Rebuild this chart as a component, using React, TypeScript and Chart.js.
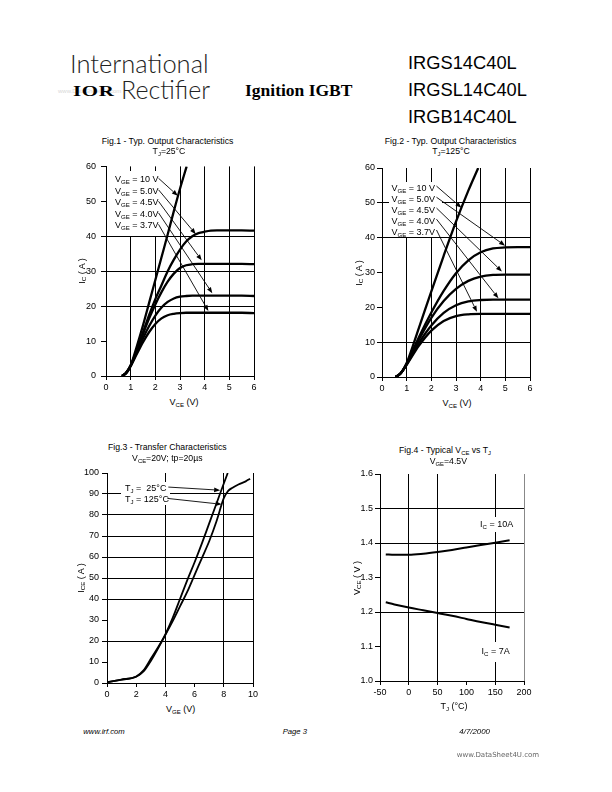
import React, { useEffect, useRef } from "react";
import { Chart, registerables } from "chart.js";
Chart.register(...registerables);

// ---------------- Fig.1 data (Tj = 25°C) ----------------
const fig1XTicks = [0, 1, 2, 3, 4, 5, 6];
const fig1YTicks = [0, 10, 20, 30, 40, 50, 60];
const fig1Vce = [0.65, 0.8, 1, 1.25, 1.5, 1.75, 2, 2.25, 2.5, 2.75, 3, 3.25, 3.5, 3.75, 4, 4.25, 4.5, 5, 5.5, 6];
const fig1Ic50 = [0, 0.8, 3, 7.5, 12.5, 17.5, 22, 26, 30, 33.3, 36.2, 38.5, 40, 40.9, 41.3, 41.6, 41.7, 41.7, 41.7, 41.6];
const fig1Ic45 = [0, 0.8, 3, 7.2, 12, 16.5, 20.5, 24, 27, 29.3, 30.9, 31.7, 32, 32.1, 32.1, 32.1, 32.1, 32.1, 32.1, 32.0];
const fig1Ic40 = [0, 0.8, 2.9, 6.8, 10.8, 14.3, 17.3, 19.6, 21.2, 22.2, 22.7, 22.9, 23, 23, 23, 23, 23, 23, 23, 22.9];
const fig1Ic37 = [0, 0.8, 2.8, 6.3, 9.7, 12.6, 14.9, 16.5, 17.4, 17.8, 18, 18.1, 18.1, 18.1, 18.1, 18.1, 18.1, 18.1, 18.1, 18.0];
const fig1Vce10 = [0.65, 0.85, 1, 1.25, 1.5, 1.75, 2, 2.25, 2.5, 2.75, 3, 3.27];
const fig1Ic10 = [0, 1, 3, 8.5, 14.5, 21, 27.5, 34, 40.5, 47.2, 53.6, 60];
const fig1Labels = ["10 V", "5.0V", "4.5V", "4.0V", "3.7V"];

// ---------------- Fig.2 data (Tj = 125°C) ----------------
const fig2XTicks = [0, 1, 2, 3, 4, 5, 6];
const fig2YTicks = [0, 10, 20, 30, 40, 50, 60];
const fig2Vce = [0.55, 0.75, 1, 1.5, 2, 2.5, 3, 3.5, 4, 4.5, 5, 5.5, 6];
const fig2Ic50 = [0, 1, 3.8, 11.5, 18.5, 24.7, 29.8, 33.5, 35.8, 36.9, 37.2, 37.3, 37.3];
const fig2Ic45 = [0, 1, 3.7, 10.8, 17, 21.8, 25.3, 27.6, 28.8, 29.3, 29.4, 29.4, 29.4];
const fig2Ic40 = [0, 1, 3.6, 9.8, 14.8, 18.4, 20.6, 21.7, 22.1, 22.2, 22.2, 22.2, 22.2];
const fig2Ic37 = [0, 1, 3.5, 9, 13.3, 16.1, 17.5, 18, 18.1, 18.1, 18.1, 18.1, 18.1];
const fig2Vce10 = [0.55, 0.7, 0.85, 1, 1.5, 2, 2.5, 3, 3.5, 3.9];
const fig2Ic10 = [0, 0.7, 2, 4, 14.2, 24.6, 34.8, 44.6, 53.5, 60];
const fig2Labels = ["10 V", "5.0V", "4.5V", "4.0V", "3.7V"];

// ---------------- Fig.3 data (transfer) ----------------
const fig3XTicks = [0, 2, 4, 6, 8, 10];
const fig3YTicks = [0, 10, 20, 30, 40, 50, 60, 70, 80, 90, 100];
const fig3Vge25 = [0, 1, 2, 2.5, 3, 3.5, 4, 4.5, 5, 5.5, 6, 6.5, 7, 7.5, 8, 8.27];
const fig3Ice25 = [0.4, 1.6, 3, 5.5, 10.5, 16.5, 23.2, 31, 40, 49, 57.5, 66.5, 76, 85.5, 95, 100];
const fig3Vge125 = [0, 1, 2, 2.5, 3, 3.5, 4, 4.5, 5, 5.5, 6, 6.5, 7, 7.5, 8, 8.3, 8.6, 9, 9.5, 9.8];
const fig3Ice125 = [0.4, 1.6, 3.1, 6, 11.5, 17, 23, 29.5, 36.5, 43.5, 51.5, 59.5, 67.5, 77, 88, 91.5, 93, 94.5, 96, 97.3];

// ---------------- Fig.4 data (Vce vs Tj) ----------------
const fig4XTicks = [-50, 0, 50, 100, 150, 200];
const fig4YTicks = [1.0, 1.1, 1.2, 1.3, 1.4, 1.5, 1.6];
const fig4Tj = [-40, -25, 0, 25, 50, 75, 100, 125, 150, 175];
const fig4Vce10A = [1.367, 1.366, 1.366, 1.369, 1.374, 1.38, 1.387, 1.394, 1.401, 1.408];
const fig4Vce7A = [1.228, 1.222, 1.213, 1.205, 1.197, 1.189, 1.18, 1.171, 1.163, 1.155];

// ---------------- rendering ----------------
const FONT = '"Liberation Sans", Arial, Helvetica, sans-serif';

type Series = { x: number[]; y: number[]; w: number };
interface Spec {
  left: number; top: number; width: number; height: number;
  padTop: number; padRight: number; yW: number; xH: number;
  xTicks: number[]; yTicks: number[];
  xGrid: number[]; yGrid: number[];
  edgeColor: string;
  yPad: number;
  yFmt?: (v: number) => string;
  series: Series[];
  arrows: number[][];
  boxes: number[][];
}

const has = (arr: number[], v: number) => arr.some((g) => Math.abs(g - v) < 1e-6);

function FigChart({ s }: { s: Spec }) {
  const ref = useRef<HTMLCanvasElement>(null);
  useEffect(() => {
    const deco = {
      id: "deco",
      beforeDatasetsDraw(chart: any) {
        const ctx = chart.ctx;
        ctx.save();
        ctx.fillStyle = "#fff";
        for (const [x1, y1, x2, y2] of s.boxes) ctx.fillRect(x1 - s.left, y1 - s.top, x2 - x1, y2 - y1);
        ctx.restore();
      },
      afterDatasetsDraw(chart: any) {
        const ctx = chart.ctx;
        const xs = chart.scales.x;
        const ys = chart.scales.y;
        ctx.save();
        ctx.strokeStyle = "#000";
        ctx.fillStyle = "#000";
        ctx.lineWidth = 0.9;
        for (const [a, b, c, d] of s.arrows) {
          const x1 = xs.getPixelForValue(a), y1 = ys.getPixelForValue(b);
          const x2 = xs.getPixelForValue(c), y2 = ys.getPixelForValue(d);
          const ang = Math.atan2(y2 - y1, x2 - x1);
          const L = 6, W = 2.3;
          const bx = x2 - L * Math.cos(ang), by = y2 - L * Math.sin(ang);
          ctx.beginPath();
          ctx.moveTo(x1, y1);
          ctx.lineTo(bx, by);
          ctx.stroke();
          ctx.beginPath();
          ctx.moveTo(x2, y2);
          ctx.lineTo(bx + W * Math.sin(ang), by - W * Math.cos(ang));
          ctx.lineTo(bx - W * Math.sin(ang), by + W * Math.cos(ang));
          ctx.closePath();
          ctx.fill();
        }
        ctx.restore();
      },
    };
    const tickFont = { family: FONT, size: 9 };
    const chart = new Chart(ref.current as HTMLCanvasElement, {
      type: "line",
      data: {
        datasets: s.series.map((se) => ({
          data: se.x.map((x, i) => ({ x, y: se.y[i] })),
          borderColor: "#000",
          borderWidth: se.w,
          pointRadius: 0,
          fill: false,
          cubicInterpolationMode: "monotone",
        })),
      },
      options: {
        animation: false,
        responsive: false,
        events: [],
        layout: { padding: { top: s.padTop, right: s.padRight, left: 0, bottom: 0 } },
        plugins: { legend: { display: false }, tooltip: { enabled: false }, title: { display: false } },
        scales: {
          x: {
            type: "linear",
            min: s.xTicks[0],
            max: s.xTicks[s.xTicks.length - 1],
            afterBuildTicks: (sc: any) => { sc.ticks = s.xTicks.map((v) => ({ value: v })); },
            afterFit: (sc: any) => { sc.height = s.xH; },
            ticks: { font: tickFont, color: "#000", padding: 2, maxRotation: 0, autoSkip: false, callback: (v: any) => String(v) },
            grid: {
              color: (c: any) => (c.tick && has(s.xGrid, c.tick.value) ? (c.tick.value === s.xTicks[s.xTicks.length - 1] ? s.edgeColor : "#000") : "rgba(0,0,0,0)"),
              lineWidth: 1,
              tickLength: 4,
              tickColor: "#000",
              drawTicks: true,
            },
            border: { display: true, color: "#000", width: 1 },
          },
          y: {
            type: "linear",
            min: s.yTicks[0],
            max: s.yTicks[s.yTicks.length - 1],
            afterBuildTicks: (sc: any) => { sc.ticks = s.yTicks.map((v) => ({ value: v })); },
            afterFit: (sc: any) => { sc.width = s.yW; },
            ticks: { font: tickFont, color: "#000", padding: s.yPad, autoSkip: false, callback: (v: any) => (s.yFmt ? s.yFmt(Number(v)) : String(v)) },
            grid: {
              color: (c: any) => (c.tick && has(s.yGrid, c.tick.value) ? "#000" : "rgba(0,0,0,0)"),
              lineWidth: 1,
              tickLength: 5,
              tickColor: "#000",
              drawTicks: true,
            },
            border: { display: true, color: "#000", width: 1 },
          },
        },
      } as any,
      plugins: [deco],
    });
    return () => chart.destroy();
  }, [s]);
  return (
    <canvas
      ref={ref}
      width={s.width}
      height={s.height}
      style={{ position: "absolute", left: s.left, top: s.top, width: s.width, height: s.height }}
    />
  );
}

const fig1Spec: Spec = {
  left: 70, top: 156, width: 196, height: 240, padTop: 10, padRight: 12, yW: 36, xH: 20,
  xTicks: fig1XTicks, yTicks: fig1YTicks, xGrid: [1, 2, 3, 4, 5, 6], yGrid: [20, 30, 40],
  edgeColor: "#000", yPad: 5,
  series: [
    { x: fig1Vce10, y: fig1Ic10, w: 2.3 },
    { x: fig1Vce, y: fig1Ic50, w: 2.3 },
    { x: fig1Vce, y: fig1Ic45, w: 2.3 },
    { x: fig1Vce, y: fig1Ic40, w: 2.3 },
    { x: fig1Vce, y: fig1Ic37, w: 2.3 },
  ],
  arrows: [
    [2.13, 56.6, 2.91, 51.6],
    [2.13, 53.3, 3.64, 40.6],
    [2.13, 50.0, 3.88, 33.1],
    [2.13, 46.7, 4.31, 23.7],
    [2.13, 43.4, 4.15, 18.6],
  ],
  boxes: [[111, 171, 161, 236]],
};

const fig2Spec: Spec = {
  left: 346, top: 158, width: 196, height: 239, padTop: 10, padRight: 12, yW: 36, xH: 20,
  xTicks: fig2XTicks, yTicks: fig2YTicks, xGrid: [1, 2, 3, 4, 5, 6], yGrid: [10, 40, 50],
  edgeColor: "#000", yPad: 2,
  series: [
    { x: fig2Vce10, y: fig2Ic10, w: 2.3 },
    { x: fig2Vce, y: fig2Ic50, w: 2.3 },
    { x: fig2Vce, y: fig2Ic45, w: 2.3 },
    { x: fig2Vce, y: fig2Ic40, w: 2.3 },
    { x: fig2Vce, y: fig2Ic37, w: 2.3 },
  ],
  arrows: [
    [2.21, 54.8, 3.22, 48.6],
    [2.21, 51.6, 4.99, 37.7],
    [2.21, 48.5, 4.86, 30.3],
    [2.21, 45.3, 4.72, 22.6],
    [2.21, 42.2, 3.85, 18.7],
  ],
  boxes: [[389, 182, 442, 237]],
};

const fig3Spec: Spec = {
  left: 71, top: 463, width: 194, height: 240, padTop: 10, padRight: 12, yW: 36, xH: 20,
  xTicks: fig3XTicks, yTicks: fig3YTicks, xGrid: [4, 8, 10], yGrid: [20, 40, 50, 60, 70, 80, 90],
  edgeColor: "#000", yPad: 3,
  series: [
    { x: fig3Vge25, y: fig3Ice25, w: 1.8 },
    { x: fig3Vge125, y: fig3Ice125, w: 1.8 },
  ],
  arrows: [
    [4.2, 93.3, 7.75, 91.8],
    [4.14, 87.9, 7.85, 85.1],
  ],
  boxes: [[121, 482, 170, 505]],
};

const fig4Spec: Spec = {
  left: 344, top: 464, width: 192, height: 237, padTop: 10, padRight: 12, yW: 36, xH: 20,
  xTicks: fig4XTicks, yTicks: fig4YTicks, xGrid: [0, 50, 150, 200], yGrid: [1.2, 1.4, 1.5],
  edgeColor: "#888", yPad: 2, yFmt: (v) => v.toFixed(1),
  series: [
    { x: fig4Tj, y: fig4Vce10A, w: 2 },
    { x: fig4Tj, y: fig4Vce7A, w: 2 },
  ],
  arrows: [],
  boxes: [[478, 517, 511, 532], [479, 642, 511, 662]],
};

const base: React.CSSProperties = {
  position: "absolute",
  whiteSpace: "nowrap",
  lineHeight: 1,
  fontFamily: FONT,
  color: "#000",
};

function Txt(p: { x: number; cy: number; size?: number; align?: "left" | "center" | "right"; style?: React.CSSProperties; k?: number; children: React.ReactNode }) {
  const size = p.size ?? 9;
  const k = p.k ?? 0.49;
  const tx = p.align === "center" ? "-50%" : p.align === "right" ? "-100%" : "0";
  return (
    <div style={{ ...base, left: p.x, top: p.cy - k * size, fontSize: size, transform: `translateX(${tx})`, ...p.style }}>
      {p.children}
    </div>
  );
}

function VTxt(p: { x: number; cy: number; size?: number; children: React.ReactNode }) {
  return (
    <div style={{ ...base, left: p.x, top: p.cy, fontSize: p.size ?? 9, transform: "translate(-50%,-50%) rotate(-90deg)" }}>
      {p.children}
    </div>
  );
}

const Sub = ({ children }: { children: React.ReactNode }) => (
  <span style={{ fontSize: "0.68em", verticalAlign: "-0.3em", lineHeight: 0 }}>{children}</span>
);

export default function App() {
  const fig1LabelY = [179.5, 191, 202.5, 214, 225.5];
  const fig2LabelY = [188.5, 199.5, 210.5, 221.5, 232.5];
  return (
    <div style={{ position: "absolute", left: 0, top: 0, width: 612, height: 792, background: "#fff", overflow: "hidden" }}>
      {/* header */}
      <Txt x={70} cy={64} size={25.5} k={0.527} style={{ fontFamily: "Lato, 'Open Sans', sans-serif", fontWeight: 300, color: "#222" }}>International</Txt>
      <Txt x={58} cy={91} size={6} style={{ color: "#d8d8d8" }}>www.DataSheet4U.com</Txt>
      <Txt x={73} cy={90.5} size={15.5} k={0.507} style={{ fontFamily: "'Liberation Serif', serif", fontWeight: 900, letterSpacing: 0.5, transform: "scaleX(1.35)", transformOrigin: "left center" }}>IOR</Txt>
      <Txt x={121} cy={90} size={25} k={0.527} style={{ fontFamily: "Lato, 'Open Sans', sans-serif", fontWeight: 300, color: "#222" }}>Rectifier</Txt>
      <Txt x={245} cy={91} size={17.5} k={0.507} style={{ fontFamily: "'Liberation Serif', 'Times New Roman', serif", fontWeight: 700 }}>Ignition IGBT</Txt>
      <Txt x={408} cy={62.5} size={18.3}>IRGS14C40L</Txt>
      <Txt x={408} cy={89.5} size={18.3}>IRGSL14C40L</Txt>
      <Txt x={408} cy={116.5} size={18.3}>IRGB14C40L</Txt>

      {/* charts */}
      <FigChart s={fig1Spec} />
      <FigChart s={fig2Spec} />
      <FigChart s={fig3Spec} />
      <FigChart s={fig4Spec} />

      {/* Fig.1 texts */}
      <Txt x={167.5} cy={141.7} size={8.7} align="center">Fig.1 - Typ. Output Characteristics</Txt>
      <Txt x={169} cy={151} size={8.7} align="center">T<Sub>J</Sub>=25°C</Txt>
      {fig1Labels.map((l, i) => (
        <Txt key={"f1" + i} x={115} cy={fig1LabelY[i]} size={9}>V<Sub>GE</Sub> = {l}</Txt>
      ))}
      <Txt x={184} cy={402.3} size={9} align="center">V<Sub>CE</Sub> (V)</Txt>
      <VTxt x={82} cy={271}>I<Sub>C</Sub> ( A )</VTxt>

      {/* Fig.2 texts */}
      <Txt x={450.5} cy={141.7} size={8.7} align="center">Fig.2 - Typ. Output Characteristics</Txt>
      <Txt x={451} cy={151.7} size={8.7} align="center">T<Sub>J</Sub>=125°C</Txt>
      {fig2Labels.map((l, i) => (
        <Txt key={"f2" + i} x={391.5} cy={fig2LabelY[i]} size={9}>V<Sub>GE</Sub> = {l}</Txt>
      ))}
      <Txt x={457} cy={403.3} size={9} align="center">V<Sub>CE</Sub> (V)</Txt>
      <VTxt x={359} cy={272.5}>I<Sub>C</Sub> ( A )</VTxt>

      {/* Fig.3 texts */}
      <Txt x={167.3} cy={447.7} size={8.7} align="center">Fig.3 - Transfer Characteristics</Txt>
      <Txt x={167.3} cy={458.3} size={8.7} align="center">V<Sub>CE</Sub>=20V; tp=20µs</Txt>
      <Txt x={125} cy={488} size={9}>T<Sub>J</Sub> = {"\u00a0"}25°C</Txt>
      <Txt x={125} cy={499.5} size={9}>T<Sub>J</Sub> = 125°C</Txt>
      <Txt x={180.7} cy={709.3} size={9} align="center">V<Sub>GE</Sub> (V)</Txt>
      <VTxt x={81} cy={578}>I<Sub>CE</Sub> ( A )</VTxt>

      {/* Fig.4 texts */}
      <Txt x={445} cy={450} size={8.7} align="center">Fig.4 - Typical V<Sub>CE</Sub> vs T<Sub>J</Sub></Txt>
      <Txt x={448.3} cy={461.7} size={8.7} align="center">V<Sub>GE</Sub>=4.5V</Txt>
      <Txt x={480} cy={524.5} size={9}>I<Sub>C</Sub> = 10A</Txt>
      <Txt x={481.5} cy={651.5} size={9}>I<Sub>C</Sub> = 7A</Txt>
      <Txt x={454} cy={706.7} size={9} align="center">T<Sub>J</Sub> (°C)</Txt>
      <VTxt x={357} cy={577.5}>V<Sub>CE</Sub> ( V )</VTxt>

      {/* footer */}
      <Txt x={83.3} cy={731.7} size={7.7} style={{ fontStyle: "italic" }}>www.irf.com</Txt>
      <Txt x={282.7} cy={731.7} size={7.7} style={{ fontStyle: "italic" }}>Page 3</Txt>
      <Txt x={459.3} cy={731.7} size={7.9} style={{ fontStyle: "italic" }}>4/7/2000</Txt>
      <Txt x={456.7} cy={755} size={7} style={{ fontFamily: "'DejaVu Sans', Verdana, sans-serif", color: "#666" }}>www.DataSheet4U.com</Txt>
    </div>
  );
}
